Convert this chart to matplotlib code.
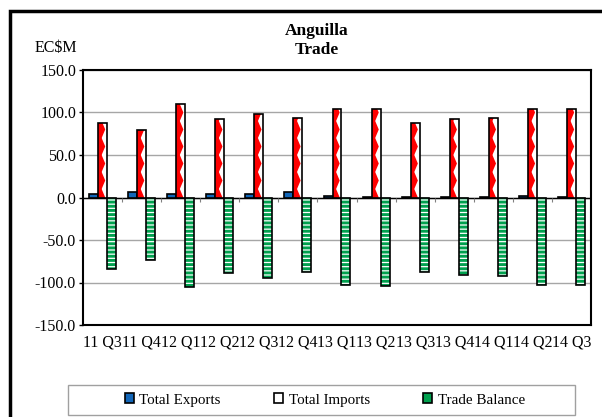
import numpy as np
import matplotlib.pyplot as plt
from matplotlib.patches import Rectangle, Patch
from matplotlib.collections import PolyCollection

plt.rcParams['font.family'] = ['Liberation Serif', 'DejaVu Serif']
plt.rcParams['font.size'] = 11.5
plt.rcParams['hatch.linewidth'] = 2.1

# ---- quarterly trade, EC$ millions ----
quarters = ["11 Q3", "11 Q4", "12 Q1", "12 Q2", "12 Q3", "12 Q4", "13 Q1",
            "13 Q2", "13 Q3", "13 Q4", "14 Q1", "14 Q2", "14 Q3"]
exports = [4.3, 6.2, 4.3, 4.0, 4.3, 6.2, 1.2, 1.0, 0.9, 1.0, 1.0, 1.2, 1.0]
imports = [88.2, 79.5, 109.6, 92.6, 98.5, 93.3, 104.0, 104.6, 88.0, 92.4,
           93.6, 103.6, 103.8]
balance = [-84.0, -73.6, -105.6, -88.8, -94.5, -87.1, -102.8, -103.6, -87.1,
           -91.4, -92.6, -102.4, -102.8]

BLUE = '#1266B8'
RED = '#FF0000'
GREEN = '#00A04E'

W, H, DPI = 602, 417, 100
fig = plt.figure(figsize=(W / DPI, H / DPI), dpi=DPI)

# plot area in pixels
L, R, T, B = 83, 591, 70, 325
ax = fig.add_axes([L / W, 1 - B / H, (R - L) / W, (B - T) / H])

x = np.arange(len(quarters))
bw = 0.23
ymin, ymax = -150, 150

ax.set_xlim(-0.5, len(quarters) - 0.5)
ax.set_ylim(ymin, ymax)

ax.bar(x - bw, exports, bw, color=BLUE, edgecolor='black', linewidth=1.2, zorder=3)

# imports: white bars with red sawtooth diamonds down the left side
imp_bars = ax.bar(x, imports, bw, color='white', linewidth=0, zorder=3)
px_y = (B - T) / (ymax - ymin)
period = 17
hw = 0.8 * bw           # half-width of each diamond, data units
dy = period / px_y
for bar in imp_bars:
    xl = bar.get_x()
    h = bar.get_height()
    polys = []
    for j in range(-1, int(h / dy) + 2):
        cy = j * dy
        polys.append([(xl - hw, cy), (xl, cy + dy),
                      (xl + hw, cy), (xl, cy - dy)])
    pc = PolyCollection(polys, facecolors=RED, edgecolors='none', zorder=3.5)
    ax.add_collection(pc)
    pc.set_clip_path(bar)
ax.bar(x, imports, bw, fill=False, edgecolor='black', linewidth=1.2, zorder=4)

# trade balance: green striped bars
ax.bar(x + bw, balance, bw, color='white', edgecolor=GREEN, hatch='----',
       linewidth=0, zorder=3)
ax.bar(x + bw, balance, bw, fill=False, edgecolor='black', linewidth=1.2, zorder=4)

# axes styling
ax.set_yticks(np.arange(ymin, ymax + 1, 50))
ax.set_yticklabels([f"{v:.1f}" for v in np.arange(ymin, ymax + 1, 50)])
ax.yaxis.grid(True, color='#a6a6a6', linewidth=1)
ax.set_axisbelow(True)
ax.axhline(0, color='black', linewidth=1, zorder=2)
ax.vlines(np.arange(0.5, len(quarters) - 0.5), -5, 0, color='#808080',
          linewidth=0.8, zorder=2)

ax.set_xticks(x)
ax.set_xticklabels(quarters)
ax.tick_params(axis='x', length=0, pad=7)
ax.tick_params(axis='y', direction='out', length=3, width=1, pad=2)
for s in ax.spines.values():
    s.set_linewidth(1.5)
    s.set_color('black')

# titles
fig.text(317 / W, 1 - 31 / H, "Anguilla", ha='center', va='center',
         fontsize=12.5, fontweight='bold')
fig.text(317 / W, 1 - 50 / H, "Trade", ha='center', va='center',
         fontsize=12.5, fontweight='bold')
fig.text(35 / W, 1 - 48 / H, "EC$M", ha='left', va='center')

# outer chart border
fig.patches.append(Rectangle((10 / W, -0.1), 1.2, 1 - 11 / H + 0.1,
                             transform=fig.transFigure, fill=False,
                             edgecolor='black', linewidth=2.5))

# legend box
fig.patches.append(Rectangle((68 / W, 1 - 415 / H), (575 - 68) / W, 30 / H,
                             transform=fig.transFigure, fill=False,
                             edgecolor='#a0a0a0', linewidth=1))
handles = [
    Patch(facecolor=BLUE, edgecolor='black', linewidth=1.2),
    Patch(facecolor='white', edgecolor='black', linewidth=1.2),
    Patch(facecolor=GREEN, edgecolor='black', linewidth=1.2),
]
fig.legend(handles, ["Total Exports", "Total Imports", "Trade Balance"],
           loc='center', bbox_to_anchor=(325 / W, 1 - 400 / H), ncol=3,
           frameon=False, handlelength=0.6, handleheight=0.6,
           handletextpad=0.35, columnspacing=3.57, fontsize=10.8)

fig.savefig("out.png", dpi=DPI)
